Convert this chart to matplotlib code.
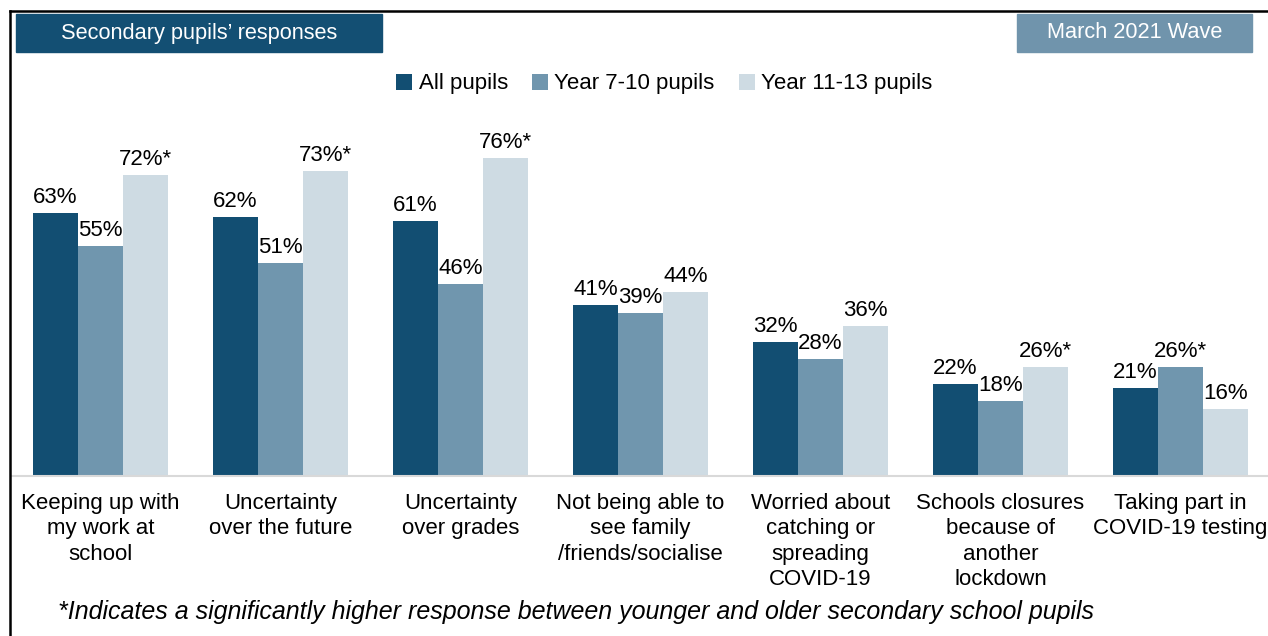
import numpy as np
import matplotlib.pyplot as plt
from matplotlib.patches import Rectangle

plt.rcParams['font.family'] = ['Liberation Sans', 'DejaVu Sans']

categories = ['Keeping up with\nmy work at\nschool', 'Uncertainty\nover the future',
              'Uncertainty\nover grades', 'Not being able to\nsee family\n/friends/socialise',
              'Worried about\ncatching or\nspreading\nCOVID-19', 'Schools closures\nbecause of\nanother\nlockdown',
              'Taking part in\nCOVID-19 testing']
all_pupils = [63, 62, 61, 41, 32, 22, 21]
year_7_10 = [55, 51, 46, 39, 28, 18, 26]
year_11_13 = [72, 73, 76, 44, 36, 26, 16]
sig_7_10 = [False, False, False, False, False, False, True]
sig_11_13 = [True, True, True, False, False, True, False]
series_names = ['All pupils', 'Year 7-10 pupils', 'Year 11-13 pupils']
colors = ['#124e72', '#7096ae', '#cedbe3']

W, H = 1268, 636
fig = plt.figure(figsize=(W / 100, H / 100), dpi=100)

# axes in pixel terms: baseline at y=476, 4.18 px per percent
bottom_px = 476
top_px = 100
ax = fig.add_axes([10.5 / W, 1 - bottom_px / H, 1260 / W, (bottom_px - top_px) / H])
ax.set_xlim(-0.5, 6.5)
ax.set_ylim(0, (bottom_px - top_px) / 4.18)

x = np.arange(len(categories))
bw = 0.25
data = [all_pupils, year_7_10, year_11_13]
sigs = [[False] * 7, sig_7_10, sig_11_13]
for i, (vals, col, sg) in enumerate(zip(data, colors, sigs)):
    pos = x + (i - 1) * bw
    ax.bar(pos, vals, width=bw, color=col, label=series_names[i])
    for p, v, s in zip(pos, vals, sg):
        ax.text(p, v + 1.2, f'{v}%' + ('*' if s else ''), ha='center', va='bottom',
                fontsize=16, color='black')

for s in ['top', 'left', 'right']:
    ax.spines[s].set_visible(False)
ax.spines['bottom'].set_color('#d9d9d9')
ax.spines['bottom'].set_linewidth(1.5)
ax.set_yticks([])
ax.set_xticks(x)
ax.set_xticklabels(categories, fontsize=16, linespacing=1.28, va='top')
ax.tick_params(axis='x', length=0, pad=12)

# legend
leg = fig.legend(loc='center', bbox_to_anchor=(0.524, 1 - 84 / H), ncol=3, frameon=False,
                 fontsize=16, handlelength=0.7, handleheight=0.7, handletextpad=0.3,
                 columnspacing=1.1)

# frame lines
fig.add_artist(plt.Line2D([9.5 / W, 9.5 / W], [0, 1 - 11 / H], color='black', lw=1.8,
                          transform=fig.transFigure))
fig.add_artist(plt.Line2D([9.5 / W, 1], [1 - 11 / H, 1 - 11 / H], color='black', lw=1.8,
                          transform=fig.transFigure))

# header boxes
fig.add_artist(Rectangle((16 / W, 1 - 52 / H), 366 / W, 38 / H, color='#134f73',
                         transform=fig.transFigure))
fig.text(199 / W, 1 - 33 / H, 'Secondary pupils\u2019 responses', color='white', fontsize=15.7,
         ha='center', va='center')
fig.add_artist(Rectangle((1017 / W, 1 - 52 / H), 235 / W, 38 / H, color='#7094ac',
                         transform=fig.transFigure))
fig.text(1134.5 / W, 1 - 33 / H, 'March 2021 Wave', color='white', fontsize=15.7,
         ha='center', va='center')

fig.text(576 / W, 1 - 612 / H,
         '*Indicates a significantly higher response between younger and older secondary school pupils',
         fontsize=18, style='italic', ha='center', va='center')

fig.savefig('out.png', dpi=100)
